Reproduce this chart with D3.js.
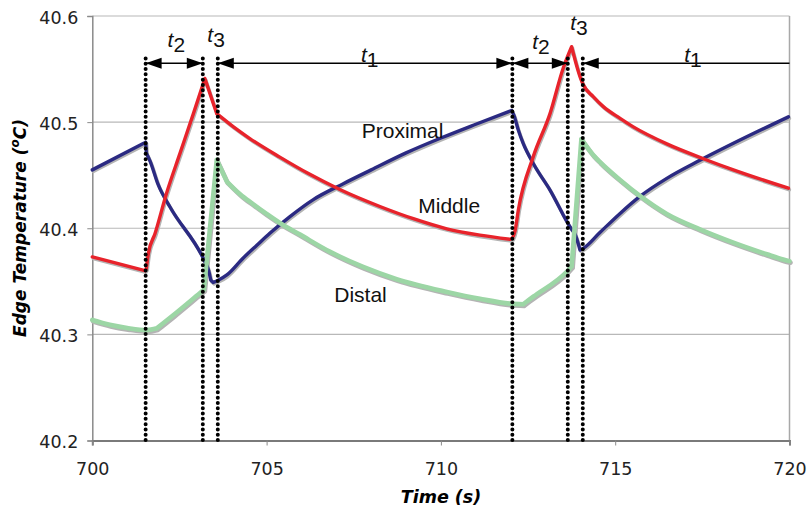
<!DOCTYPE html>
<html>
<head>
<meta charset="utf-8">
<script src="https://cdn.jsdelivr.net/npm/d3@7"></script>
<style>
  body { margin: 0; background: #fff; }
  svg { display: block; }
</style>
</head>
<body>
<div id="chart"></div>
<script>
var width = 807;
var height = 511;

// [time (s), edge temperature (C)]
var proximal = [
    [700.00, 40.455], [701.53, 40.481], [701.55, 40.471], [701.66, 40.463],
    [701.89, 40.441], [702.23, 40.420], [703.23, 40.3685], [703.33, 40.361],
    [703.40, 40.351], [703.47, 40.349], [703.61, 40.351], [703.86, 40.356],
    [704.33, 40.372], [704.72, 40.384], [705.10, 40.3955], [705.67, 40.411],
    [706.34, 40.427], [707.20, 40.442], [708.00, 40.455], [709.00, 40.471],
    [710.00, 40.485], [711.00, 40.498], [712.03, 40.511], [712.10, 40.506],
    [712.22, 40.4925], [712.36, 40.480], [712.65, 40.461], [713.13, 40.436],
    [713.75, 40.399], [713.84, 40.395], [713.99, 40.3795], [714.08, 40.381],
    [714.56, 40.396], [715.14, 40.414], [715.71, 40.430], [716.48, 40.447],
    [717.43, 40.464], [718.39, 40.480], [719.97, 40.505]
];

var middle = [
    [700.00, 40.373], [701.51, 40.360], [701.55, 40.362], [701.61, 40.3765],
    [701.80, 40.395], [702.13, 40.433], [702.52, 40.471], [702.90, 40.508],
    [703.23, 40.541], [703.57, 40.508], [704.05, 40.4955], [704.52, 40.4845],
    [705.38, 40.467], [706.20, 40.4515], [707.10, 40.4365], [708.25, 40.4205],
    [709.21, 40.409], [710.17, 40.3995], [711.12, 40.3935], [711.98, 40.3896],
    [712.05, 40.3905], [712.13, 40.398], [712.22, 40.417], [712.65, 40.4675],
    [713.13, 40.508], [713.51, 40.551], [713.75, 40.571], [714.00, 40.542],
    [714.08, 40.5355], [714.37, 40.524], [714.66, 40.5146], [715.14, 40.5035],
    [715.52, 40.4955], [716.48, 40.4795], [717.53, 40.4655], [718.39, 40.455],
    [719.97, 40.4377]
];

var distal = [
    [700.00, 40.3136], [700.50, 40.309], [701.00, 40.306], [701.56, 40.304],
    [701.85, 40.3057], [702.32, 40.318], [703.09, 40.339], [703.20, 40.342],
    [703.57, 40.4644], [703.86, 40.444], [704.24, 40.432], [704.60, 40.423],
    [705.00, 40.4135], [705.38, 40.405], [705.96, 40.394], [706.81, 40.378],
    [707.77, 40.3635], [708.73, 40.352], [710.17, 40.340], [711.12, 40.3335],
    [711.98, 40.329], [712.36, 40.3284], [712.65, 40.3355], [713.61, 40.359],
    [713.75, 40.364], [714.03, 40.484], [714.37, 40.469], [714.56, 40.4625],
    [715.14, 40.4455], [715.71, 40.4305], [716.48, 40.4135], [717.43, 40.399],
    [718.39, 40.3865], [719.35, 40.3755], [719.82, 40.3705], [720.00, 40.369]
];

var xTicks = [700, 705, 710, 715, 720];
var yTicks = [40.2, 40.3, 40.4, 40.5, 40.6];

// switching instants (dotted lines)
var switchTimes = [701.53, 703.17, 703.6, 712.05, 713.64, 714.07];
// interval arrows: [from, to, head at start, head at end]
var spans = [
    [701.53, 703.17, true, true],
    [703.6, 712.05, true, true],
    [712.05, 713.64, true, true],
    [714.07, 720, true, false]
];
// interval labels: [sub index, time, temp]
var spanLabels = [
    ['2', 702.41, 40.571], ['3', 703.55, 40.5757], ['1', 707.96, 40.5566],
    ['2', 712.87, 40.569], ['3', 713.96, 40.5869], ['1', 717.23, 40.5566]
];

var seriesNames = ['Proximal', 'Middle', 'Distal'];
var seriesColors = ['#2b2a82', '#e8232b', '#9cd6a5'];
var seriesWidths = [3.4, 3.4, 4.6];
var nameTimes = [707.73, 709.35, 706.94];
var nameTemps = [40.4848, 40.414, 40.3308];

var arrowTemp = 40.5555;
var dotTop = 40.560;

var plot = { left: 92.3, right: 789.5, top: 16, bottom: 440.5 };

var x = d3.scaleLinear().domain([700, 720]).range([plot.left, plot.right]);
var y = d3.scaleLinear().domain([40.2, 40.6]).range([plot.bottom, plot.top]);

var svg = d3.select('#chart').append('svg')
    .attr('width', width)
    .attr('height', height);

// gridlines
svg.append('g').selectAll('line')
    .data(yTicks.slice(1))
    .enter().append('line')
    .attr('x1', plot.left).attr('x2', plot.right)
    .attr('y1', function(d) { return y(d); })
    .attr('y2', function(d) { return y(d); })
    .attr('stroke', '#b8b8b8')
    .attr('stroke-width', 1.2);

// right border
svg.append('line')
    .attr('x1', plot.right).attr('x2', plot.right)
    .attr('y1', plot.top).attr('y2', plot.bottom)
    .attr('stroke', '#a8a8a8')
    .attr('stroke-width', 1.5);

// axes
var yAxis = svg.append('g')
    .attr('transform', 'translate(' + plot.left + ',0)')
    .call(d3.axisLeft(y).tickValues(yTicks).tickFormat(d3.format('.1f')).tickSize(5).tickPadding(9));
yAxis.select('.domain').attr('stroke', '#8a8a8a').attr('stroke-width', 1.5);
yAxis.selectAll('.tick line').attr('stroke', '#8a8a8a');
yAxis.selectAll('.tick text')
    .style('font-family', 'DejaVu Sans, Verdana, sans-serif')
    .style('font-size', '17.5px')
    .attr('fill', '#222')
    .attr('dy', '0.4em');

var xAxis = svg.append('g')
    .attr('transform', 'translate(0,' + plot.bottom + ')')
    .call(d3.axisBottom(x).tickValues(xTicks).tickSize(5).tickPadding(17));
xAxis.select('.domain').attr('stroke', '#7a7a7a').attr('stroke-width', 2);
xAxis.selectAll('.tick line').attr('stroke', '#8a8a8a');
xAxis.selectAll('.tick text')
    .style('font-family', 'DejaVu Sans, Verdana, sans-serif')
    .style('font-size', '17.5px')
    .attr('fill', '#222');

// axis titles
svg.append('text')
    .attr('x', 441)
    .attr('y', 503)
    .attr('text-anchor', 'middle')
    .style('font-family', 'DejaVu Sans, Verdana, sans-serif')
    .style('font-size', '17.5px')
    .style('font-weight', 'bold')
    .style('font-style', 'italic')
    .text('Time (s)');

var yTitle = svg.append('text')
    .attr('transform', 'translate(26,' + 228 + ') rotate(-90)')
    .attr('text-anchor', 'middle')
    .style('font-family', 'DejaVu Sans, Verdana, sans-serif')
    .style('font-size', '17px')
    .style('font-weight', 'bold')
    .style('font-style', 'italic');
yTitle.append('tspan').text('Edge Temperature (');
yTitle.append('tspan').attr('baseline-shift', 'super').style('font-size', '12px').text('o');
yTitle.append('tspan').text('C)');

// series lines: smooth between the sharp corners, keep the corners sharp
var smooth = d3.line()
    .x(function(d) { return x(d[0]); })
    .y(function(d) { return y(d[1]); })
    .curve(d3.curveMonotoneX);

function piecesOf(s) {
    var pieces = [];
    var cur = [s[0]];
    for (var i = 1; i < s.length; i++) {
        cur.push(s[i]);
        if (i < s.length - 1) {
            var a0 = Math.atan2(y(s[i][1]) - y(s[i - 1][1]), x(s[i][0]) - x(s[i - 1][0]));
            var a1 = Math.atan2(y(s[i + 1][1]) - y(s[i][1]), x(s[i + 1][0]) - x(s[i][0]));
            if (Math.abs(a1 - a0) > 0.35) {
                pieces.push(cur);
                cur = [s[i]];
            }
        }
    }
    pieces.push(cur);
    return pieces;
}

function pathFor(s) {
    return piecesOf(s).map(function(p) { return smooth(p); }).join('');
}

var allSeries = [proximal, middle, distal];

allSeries.forEach(function(s, i) {
    svg.append('path')
        .attr('d', pathFor(s))
        .attr('transform', 'translate(1,1.6)')
        .attr('fill', 'none')
        .attr('stroke', '#b4b4b4')
        .attr('stroke-width', seriesWidths[i])
        .attr('stroke-linejoin', 'round')
        .attr('stroke-linecap', 'round');
});

allSeries.forEach(function(s, i) {
    svg.append('path')
        .attr('d', pathFor(s))
        .attr('fill', 'none')
        .attr('stroke', seriesColors[i])
        .attr('stroke-width', seriesWidths[i])
        .attr('stroke-linejoin', 'round')
        .attr('stroke-linecap', 'round');
});

// dotted switching lines
svg.append('g').selectAll('line')
    .data(switchTimes)
    .enter().append('line')
    .attr('x1', function(d) { return x(d); })
    .attr('x2', function(d) { return x(d); })
    .attr('y1', y(dotTop))
    .attr('y2', plot.bottom)
    .attr('stroke', '#000')
    .attr('stroke-width', 4)
    .attr('stroke-linecap', 'round')
    .attr('stroke-dasharray', '0 5.3');

// interval arrows
var ay = y(arrowTemp);
var headLen = 16;
var headHalf = 5.5;

spans.forEach(function(sp) {
    var x0 = x(sp[0]);
    var x1 = x(sp[1]);
    svg.append('line')
        .attr('x1', x0).attr('x2', x1)
        .attr('y1', ay).attr('y2', ay)
        .attr('stroke', '#000')
        .attr('stroke-width', 1.6);
    if (sp[2]) {
        svg.append('path')
            .attr('d', 'M' + x0 + ',' + ay + 'L' + (x0 + headLen) + ',' + (ay - headHalf) +
                'L' + (x0 + headLen) + ',' + (ay + headHalf) + 'Z')
            .attr('fill', '#000');
    }
    if (sp[3]) {
        svg.append('path')
            .attr('d', 'M' + x1 + ',' + ay + 'L' + (x1 - headLen) + ',' + (ay - headHalf) +
                'L' + (x1 - headLen) + ',' + (ay + headHalf) + 'Z')
            .attr('fill', '#000');
    }
});

// t labels
spanLabels.forEach(function(l) {
    var t = svg.append('text')
        .attr('x', x(l[1]))
        .attr('y', y(l[2]))
        .attr('text-anchor', 'middle')
        .style('font-family', 'Liberation Sans, Arial, sans-serif')
        .style('font-size', '21px')
        .attr('fill', '#111');
    t.append('tspan').style('font-style', 'italic').text('t');
    t.append('tspan').attr('dy', 5).text(l[0]);
});

// series names
seriesNames.forEach(function(name, i) {
    svg.append('text')
        .attr('x', x(nameTimes[i]))
        .attr('y', y(nameTemps[i]))
        .style('font-family', 'Liberation Sans, Arial, sans-serif')
        .style('font-size', '21px')
        .attr('fill', '#111')
        .text(name);
});
</script>
</body>
</html>
